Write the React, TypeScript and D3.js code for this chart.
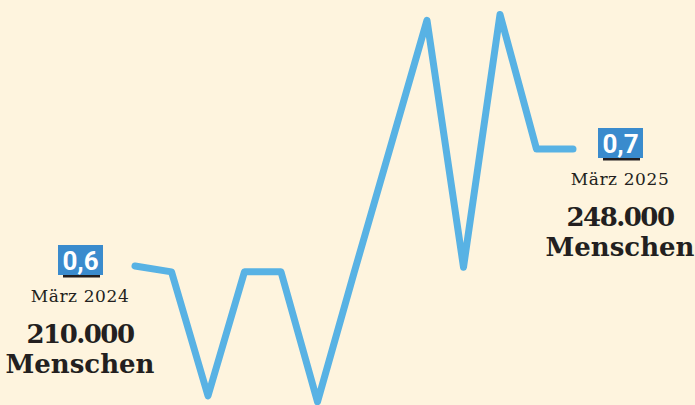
import React, { useEffect, useRef } from "react";
import * as d3 from "d3";

// monthly values, März 2024 .. März 2025
const months = [
  "März 2024", "April 2024", "Mai 2024", "Juni 2024", "Juli 2024", "August 2024",
  "September 2024", "Oktober 2024", "November 2024", "Dezember 2024",
  "Januar 2025", "Februar 2025", "März 2025",
];
const values = [0.6, 0.595, 0.489, 0.595, 0.595, 0.484, 0.594, 0.702, 0.81, 0.599, 0.815, 0.7, 0.7];
const rateLabels = ["0,6", "0,7"];
const peopleLabels = ["210.000", "248.000"];

const App: React.FC = () => {
  const svgRef = useRef<SVGSVGElement>(null);

  useEffect(() => {
    if (!svgRef.current) return;
    d3.select(svgRef.current).selectAll("*").remove();

    const width = 695;
    const height = 405;
    const svg = d3.select(svgRef.current).attr("width", width).attr("height", height);

    svg.append("rect").attr("width", width).attr("height", height).attr("fill", "#fef4de");

    const x = d3.scaleLinear().domain([0, months.length - 1]).range([135, 573]);
    const y = d3.scaleLinear().domain([0.45, 0.85]).range([441.5, -26.5]);

    const line = d3
      .line<number>()
      .x((_, i) => x(i))
      .y((d) => y(d));

    svg
      .append("path")
      .datum(values)
      .attr("fill", "none")
      .attr("stroke", "#58b2e4")
      .attr("stroke-width", 7)
      .attr("stroke-linejoin", "round")
      .attr("stroke-linecap", "round")
      .attr("d", line);

    // annotations for first and last month
    const notes = [
      { i: 0, cx: 80, boxY: 245, rate: rateLabels[0], people: peopleLabels[0] },
      { i: months.length - 1, cx: 620, boxY: 128, rate: rateLabels[1], people: peopleLabels[1] },
    ];

    notes.forEach((n) => {
      const g = svg.append("g").attr("transform", `translate(${n.cx},${n.boxY})`);
      g.append("rect").attr("x", -22).attr("y", 0).attr("width", 45).attr("height", 30).attr("fill", "#3a8bcd");
      g.append("rect").attr("x", -17).attr("y", 30).attr("width", 37).attr("height", 2.5).attr("fill", "#231f20");
      g.append("text")
        .attr("x", 0.5)
        .attr("y", 24.5)
        .attr("text-anchor", "middle")
        .attr("fill", "#fff")
        .attr("font-family", "Roboto, sans-serif")
        .attr("font-weight", 700)
        .attr("font-size", 26)
        .text(n.rate);
      g.append("text")
        .attr("x", 0)
        .attr("y", 57)
        .attr("text-anchor", "middle")
        .attr("fill", "#231f20")
        .attr("font-family", "DejaVu Serif, serif")
        .attr("font-size", 17)
        .attr("letter-spacing", 0.6)
        .text(months[n.i]);
      g.append("text")
        .attr("x", 0)
        .attr("y", 98)
        .attr("text-anchor", "middle")
        .attr("fill", "#231f20")
        .attr("font-family", "DejaVu Serif, serif")
        .attr("font-weight", 700)
        .attr("font-size", 26)
        .attr("letter-spacing", -1.5)
        .text(n.people);
      g.append("text")
        .attr("x", 0)
        .attr("y", 128)
        .attr("text-anchor", "middle")
        .attr("fill", "#231f20")
        .attr("font-family", "DejaVu Serif, serif")
        .attr("font-weight", 700)
        .attr("font-size", 26)
        .text("Menschen");
    });
  }, []);

  return (
    <div style={{ position: "absolute", left: 0, top: 0 }}>
      <svg ref={svgRef} style={{ display: "block" }}></svg>
    </div>
  );
};

export default App;
